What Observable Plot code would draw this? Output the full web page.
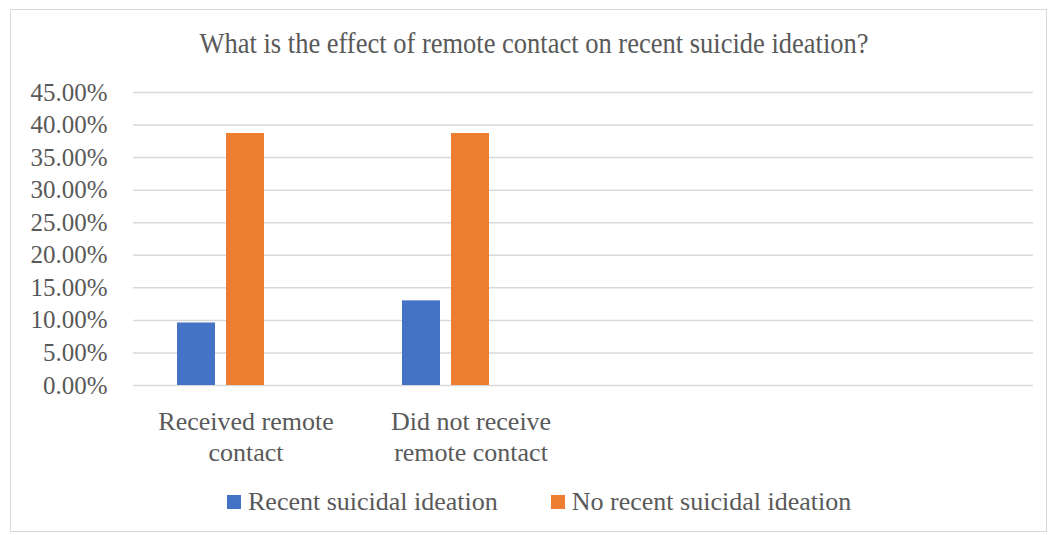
<!DOCTYPE html>
<html>
<head>
<meta charset="utf-8">
<script src="https://cdn.jsdelivr.net/npm/d3@7"></script>
<script src="https://cdn.jsdelivr.net/npm/@observablehq/plot@0.6"></script>
<style>
  html, body { margin: 0; padding: 0; background: #ffffff; }
  #root { position: relative; width: 1050px; height: 535px; overflow: hidden; font-family: "Liberation Serif", "Times New Roman", serif; color: #595959; }
  #frame { position: absolute; left: 10px; top: 9px; width: 1037px; height: 523px; border: 1px solid #d9d9d9; box-sizing: border-box; }
  #title { position: absolute; left: 0; top: 28px; width: 1068px; text-align: center; font-size: 26.5px; line-height: 30px; transform: scaleY(1.08); white-space: nowrap; }
  #chart { position: absolute; left: 0; top: 0; }
  #legend { position: absolute; left: 227px; top: 489px; display: flex; gap: 53px; font-size: 26px; line-height: 26px; white-space: nowrap; }
  .item { display: flex; align-items: center; gap: 7px; }
  .swatch { width: 14px; height: 14px; display: inline-block; }
</style>
</head>
<body>
<div id="root">
  <div id="frame"></div>
  <div id="chart"></div>
  <div id="title"></div>
  <div id="legend"></div>
</div>
<script>
const chartTitle = "What is the effect of remote contact on recent suicide ideation?";
const categories = ["Received remote contact", "Did not receive remote contact", "(blank 1)", "(blank 2)"];
const categoryLabels = ["Received remote\ncontact", "Did not receive\nremote contact", "", ""];
const series = ["Recent suicidal ideation", "No recent suicidal ideation"];
const emptySeries = "(empty series)";
// values per category; blank categories have no value (null)
const recentValues = [9.6, 13.0, null, null];
const noRecentValues = [38.7, 38.7, null, null];
const yTicks = [0, 5, 10, 15, 20, 25, 30, 35, 40, 45];
const colors = ["#4472C4", "#ED7D31"];

const data = [];
[recentValues, noRecentValues].forEach((vals, s) => {
  vals.forEach((v, i) => data.push({category: categories[i], series: series[s], value: v}));
});

const plot = Plot.plot({
  width: 1050,
  height: 470,
  marginLeft: 132,
  marginRight: 16,
  marginTop: 92,
  marginBottom: 85,
  style: {fontFamily: "Liberation Serif", background: "transparent", color: "#595959", overflow: "visible"},
  fx: {domain: categories, padding: 0, axis: null, label: null},
  x: {domain: [...series, emptySeries], paddingInner: 0.22, paddingOuter: 0.865, axis: null},
  y: {domain: [0, 45], axis: null},
  color: {domain: series, range: colors},
  marks: [
    Plot.ruleY(yTicks, {stroke: "#d9d9d9", strokeWidth: 1.5}),
    Plot.barY(data, {fx: "category", x: "series", y: "value", fill: "series"}),
    Plot.axisY(yTicks, {tickSize: 0, tickPadding: 26, tickFormat: d => d.toFixed(2) + "%", fontSize: 25, label: null}),
    Plot.axisFx({anchor: "bottom", tickSize: 0, tickPadding: 23, tickFormat: c => categoryLabels[categories.indexOf(c)], fontSize: 26, lineHeight: 1.19, label: null})
  ]
});
document.getElementById("chart").appendChild(plot);

document.getElementById("title").textContent = chartTitle;
const legend = document.getElementById("legend");
series.forEach((s, i) => {
  const item = document.createElement("div");
  item.className = "item";
  const sw = document.createElement("span");
  sw.className = "swatch";
  sw.style.background = colors[i];
  const tx = document.createElement("span");
  tx.textContent = s;
  item.appendChild(sw);
  item.appendChild(tx);
  legend.appendChild(item);
});
</script>
</body>
</html>
